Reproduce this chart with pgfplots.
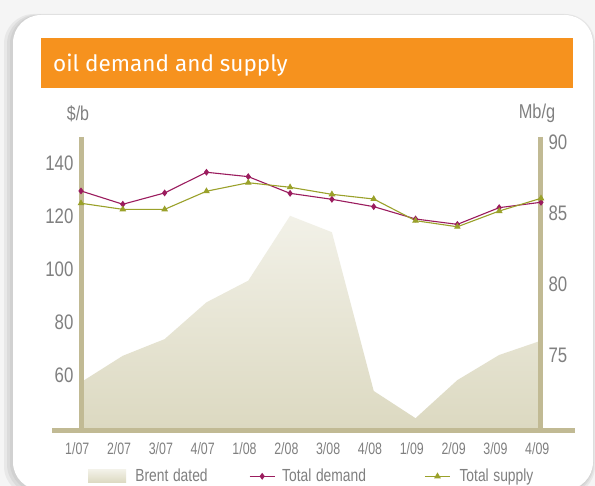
\documentclass[border=0pt]{standalone}
\usepackage{fontspec}
\setmainfont{Liberation Sans}
\newfontfamily\titlefont{Fira Sans}
\usepackage{pgfplots}
\pgfplotsset{compat=1.18}
\definecolor{orangebar}{RGB}{246,146,30}
\definecolor{tanbar}{RGB}{193,186,148}
\definecolor{lbl}{RGB}{128,128,128}
\definecolor{dem}{RGB}{155,28,94}
\definecolor{sup}{RGB}{154,161,42}
\definecolor{brenttop}{RGB}{242,241,232}
\definecolor{brentbot}{RGB}{220,217,193}
\pgfplotsset{
  linelegend/.style={legend image code/.code={\draw[mark repeat=2,mark phase=2,##1] plot coordinates {(0pt,0pt) (12.5pt,0pt) (25pt,0pt)};\path (#1,0pt);}},
  arealegend/.style={legend image code/.code={\path[draw=none, top color=brenttop, bottom color=brentbot] (0pt,-6.5pt) rectangle (38pt,6.5pt);\path (47pt,0pt);}},
}
\begin{document}
\begin{tikzpicture}[x=1pt,y=1pt]
\path[use as bounding box] (0,0) rectangle (595,486);
\clip (0,0) rectangle (595,486);
% background
\fill[black!4] (0,0) rectangle (595,486);
\fill[black!9, rounded corners=30pt] (4,-10) rectangle (595,472);
\fill[black!14, rounded corners=30pt] (7,-8) rectangle (594,471.5);
\fill[black!18, rounded corners=29pt] (10,-6) rectangle (593,471);
\fill[white, rounded corners=28pt] (13,-4) rectangle (593,471);
% title bar
\fill[orangebar] (41,398) rectangle (573,448);
\node[anchor=base west, inner sep=0pt, text=white, font=\titlefont\fontsize{22.5}{22.5}\selectfont] at (53,414) {oil demand and supply};
% units
\node[anchor=base, inner sep=0pt, text=lbl, font=\fontsize{20}{20}\selectfont, xscale=0.8] at (78,365) {\$/b};
\node[anchor=base, inner sep=0pt, text=lbl, font=\fontsize{20}{20}\selectfont, xscale=0.82] at (537,367) {Mb/g};
% left axis: Brent
\begin{axis}[
  scale only axis, width=460pt, height=291pt,
  at={(81pt,58pt)}, anchor=south west,
  xmin=0, xmax=11, ymin=40, ymax=150,
  axis x line*=bottom, axis y line*=left,
  axis line style={draw=none},
  major tick length=0pt,
  xtick={0,...,11},
  xticklabels={1/07,2/07,3/07,4/07,1/08,2/08,3/08,4/08,1/09,2/09,3/09,4/09},
  ytick={60,80,100,120,140},
  /pgf/number format/assume math mode=true,
  yticklabel style={font=\fontsize{21}{21}\selectfont, text=lbl, xscale=0.8, anchor=east, xshift=-6pt},
  xticklabel style={font=\fontsize{16.5}{16.5}\selectfont, text=lbl, xscale=0.75, anchor=north, yshift=-11pt, xshift=-5pt},
]
\addplot[draw=none, top color=brenttop, bottom color=brentbot] coordinates {
(0,57.3) (1,67.3) (2,73.6) (3,87.5) (4,95.7) (5,120.2) (6,114.0) (7,54.0) (8,43.7) (9,58.1) (10,67.6) (11,73.0)
} \closedcycle;
\end{axis}
% axis bars
\draw[tanbar, line width=5pt] (81.5,349) -- (81.5,54);
\draw[tanbar, line width=5pt] (540.5,349) -- (540.5,54);
\draw[tanbar, line width=5.5pt] (52,55.5) -- (575,55.5);
% right axis: demand & supply
\begin{axis}[
  scale only axis, width=460pt, height=291pt,
  at={(81pt,58pt)}, anchor=south west,
  xmin=0, xmax=11, ymin=69.85, ymax=90.4,
  axis x line*=bottom, axis y line*=right,
  axis line style={draw=none},
  major tick length=0pt,
  xtick=\empty,
  ytick={75,80,85,90},
  clip=false,
  /pgf/number format/assume math mode=true,
  yticklabel style={font=\fontsize{21}{21}\selectfont, text=lbl, xscale=0.8, anchor=west, xshift=6pt},
  legend columns=3,
  legend style={at={(0.0152,-0.166)}, anchor=west, draw=none, fill=none, inner sep=0pt,
    nodes={inner sep=0pt},
    font=\fontsize{17.5}{17.5}\selectfont, text=lbl,
    /tikz/every even column/.append style={column sep=0pt},
    /tikz/every odd column/.append style={column sep=0pt}},
  legend cell align=left,
]
\addlegendimage{arealegend}
\addlegendentry[xscale=0.79, text width=144pt, align=left]{Brent dated}
\addplot[dem, line width=1.1pt, mark=diamond*, mark size=2.6pt, linelegend=32pt] coordinates {
(0,86.59) (1,85.65) (2,86.45) (3,87.91) (4,87.60) (5,86.42) (6,86.00) (7,85.48) (8,84.61) (9,84.23) (10,85.41) (11,85.79)
};
\addlegendentry[xscale=0.79, text width=180pt, align=left]{Total demand}
\addplot[sup, line width=1.1pt, mark=triangle*, mark size=2.8pt, linelegend=34pt] coordinates {
(0,85.72) (1,85.29) (2,85.29) (3,86.57) (4,87.17) (5,86.85) (6,86.35) (7,86.02) (8,84.49) (9,84.06) (10,85.17) (11,86.07)
};
\addlegendentry[xscale=0.79, text width=100pt, align=left]{Total supply}
\end{axis}
\end{tikzpicture}
\end{document}
